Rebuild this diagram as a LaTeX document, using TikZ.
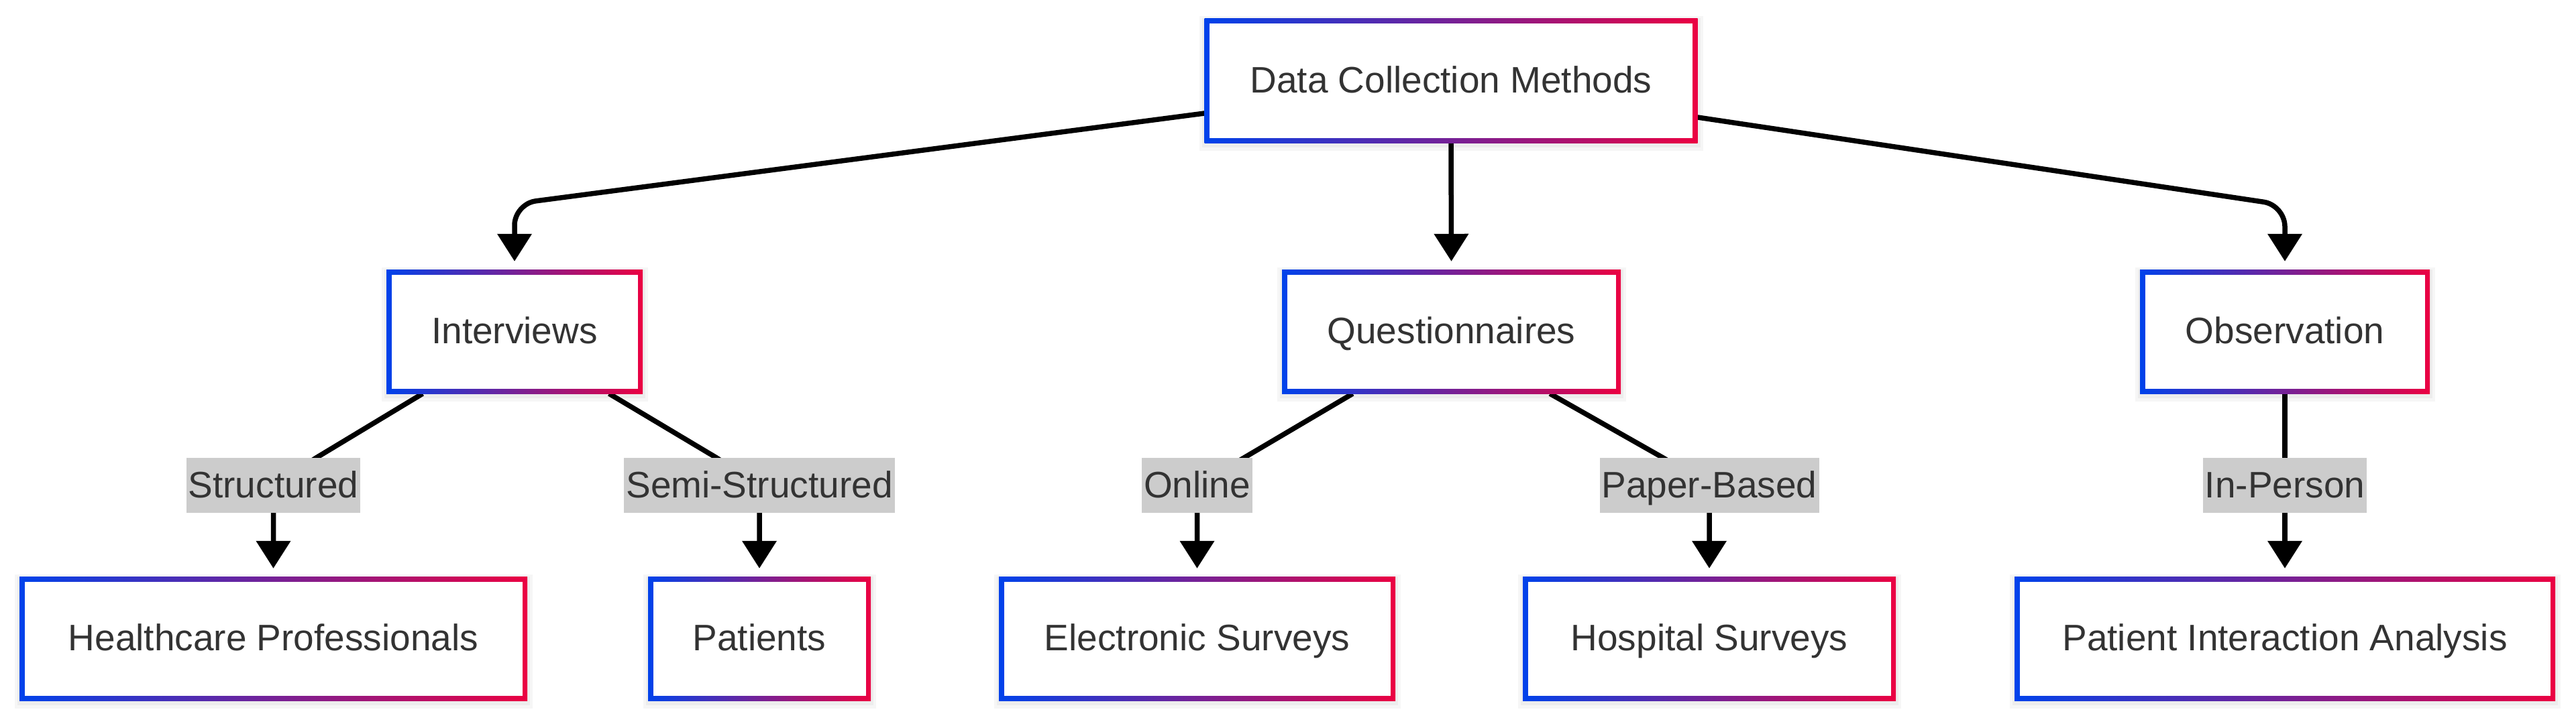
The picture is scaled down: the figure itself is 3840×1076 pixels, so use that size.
\documentclass[tikz,border=0pt]{standalone}
\usepackage{fontspec}
\setmainfont{Liberation Sans}
\usetikzlibrary{arrows.meta}
\definecolor{cblue}{RGB}{0,66,235}
\definecolor{cred}{RGB}{235,0,66}
\definecolor{ctext}{HTML}{333333}
\definecolor{clabel}{HTML}{CCCCCC}
\pgfdeclarelayer{bg}
\pgfsetlayers{bg,main}
\begin{document}
\begin{tikzpicture}[x=1pt,y=-1pt,
  gbox/.style={rectangle, inner sep=0pt, minimum height=185pt, text=ctext,
    text height=48pt, text depth=12pt,
    font=\fontsize{55}{66}\selectfont,
    path picture={
      \shade[left color=cblue,right color=cred]
        (path picture bounding box.south west) rectangle (path picture bounding box.north east);
      \fill[white]
        ([xshift=7.5pt,yshift=7.5pt]path picture bounding box.south west) rectangle
        ([xshift=-7.5pt,yshift=-7.5pt]path picture bounding box.north east);
    }},
  elabel/.style={rectangle, fill=clabel, inner xsep=3pt, inner ysep=0pt,
    text height=48pt, text depth=12pt,
    minimum height=82pt, text=ctext, font=\fontsize{55}{66}\selectfont},
  conn/.style={line width=7.5pt, line join=round, -{Triangle[width=50pt,length=41pt]}},
  shadowbox/.style={black, opacity=0.035},
]
\useasboundingbox (0,0) rectangle (3840,1076);

% main nodes
\node[gbox, minimum width=735pt, minimum height=186pt] (dcm) at (2163,120) {Data Collection Methods};
\node[gbox, minimum width=382pt] (int) at (767,494.5) {Interviews};
\node[gbox, minimum width=505pt] (que) at (2163.5,494.5) {Questionnaires};
\node[gbox, minimum width=432pt] (obs) at (3406,494.5) {Observation};
\node[gbox, minimum width=757pt] (hcp) at (407.5,952.5) {Healthcare Professionals};
\node[gbox, minimum width=332pt] (pat) at (1132,952.5) {Patients};
\node[gbox, minimum width=591pt] (els) at (1784.5,952.5) {Electronic Surveys};
\node[gbox, minimum width=556pt] (hos) at (2548,952.5) {Hospital Surveys};
\node[gbox, minimum width=806pt] (pia) at (3406,952.5) {Patient Interaction Analysis};

% edge labels
\node[elabel] (lstr) at (407.5,724) {Structured};
\node[elabel] (lsemi) at (1132,724) {Semi-Structured};
\node[elabel] (lon) at (1784.5,724) {Online};
\node[elabel] (lpap) at (2548,724) {Paper-Based};
\node[elabel] (lin) at (3406,724) {In-Person};

% bend points
\coordinate (bendL) at (767,304);
\coordinate (bendR) at (3406,306);

\begin{pgfonlayer}{bg}
  \foreach \n in {dcm,int,que,obs,hcp,pat,els,hos,pia}{
    \fill[shadowbox] ([xshift=-7pt,yshift=-12pt]\n.south west) rectangle ([xshift=8pt,yshift=3pt]\n.north east);
    \fill[shadowbox] ([xshift=-3pt,yshift=-7pt]\n.south west) rectangle ([xshift=4pt,yshift=0pt]\n.north east);
  }
  \draw[conn, rounded corners=32pt] ([yshift=-49pt]dcm.west) -- (bendL) -- ([yshift=12pt]int.north);
  \draw[conn] (dcm.south) -- ([yshift=12pt]que.north);
  \draw[conn, rounded corners=32pt] ([yshift=-55pt]dcm.east) -- (bendR) -- ([yshift=12pt]obs.north);

  \draw[conn] ([xshift=-137pt]int.south) -- ([xshift=64pt]lstr.north) -- (lstr.center) -- ([yshift=12pt]hcp.north);
  \draw[conn] ([xshift=141pt]int.south) -- ([xshift=-64pt]lsemi.north) -- (lsemi.center) -- ([yshift=12pt]pat.north);
  \draw[conn] ([xshift=-147pt]que.south) -- ([xshift=70pt]lon.north) -- (lon.center) -- ([yshift=12pt]els.north);
  \draw[conn] ([xshift=147pt]que.south) -- ([xshift=-69pt]lpap.north) -- (lpap.center) -- ([yshift=12pt]hos.north);
  \draw[conn] (obs.south) -- (lin.center) -- ([yshift=12pt]pia.north);
\end{pgfonlayer}
\end{tikzpicture}
\end{document}
